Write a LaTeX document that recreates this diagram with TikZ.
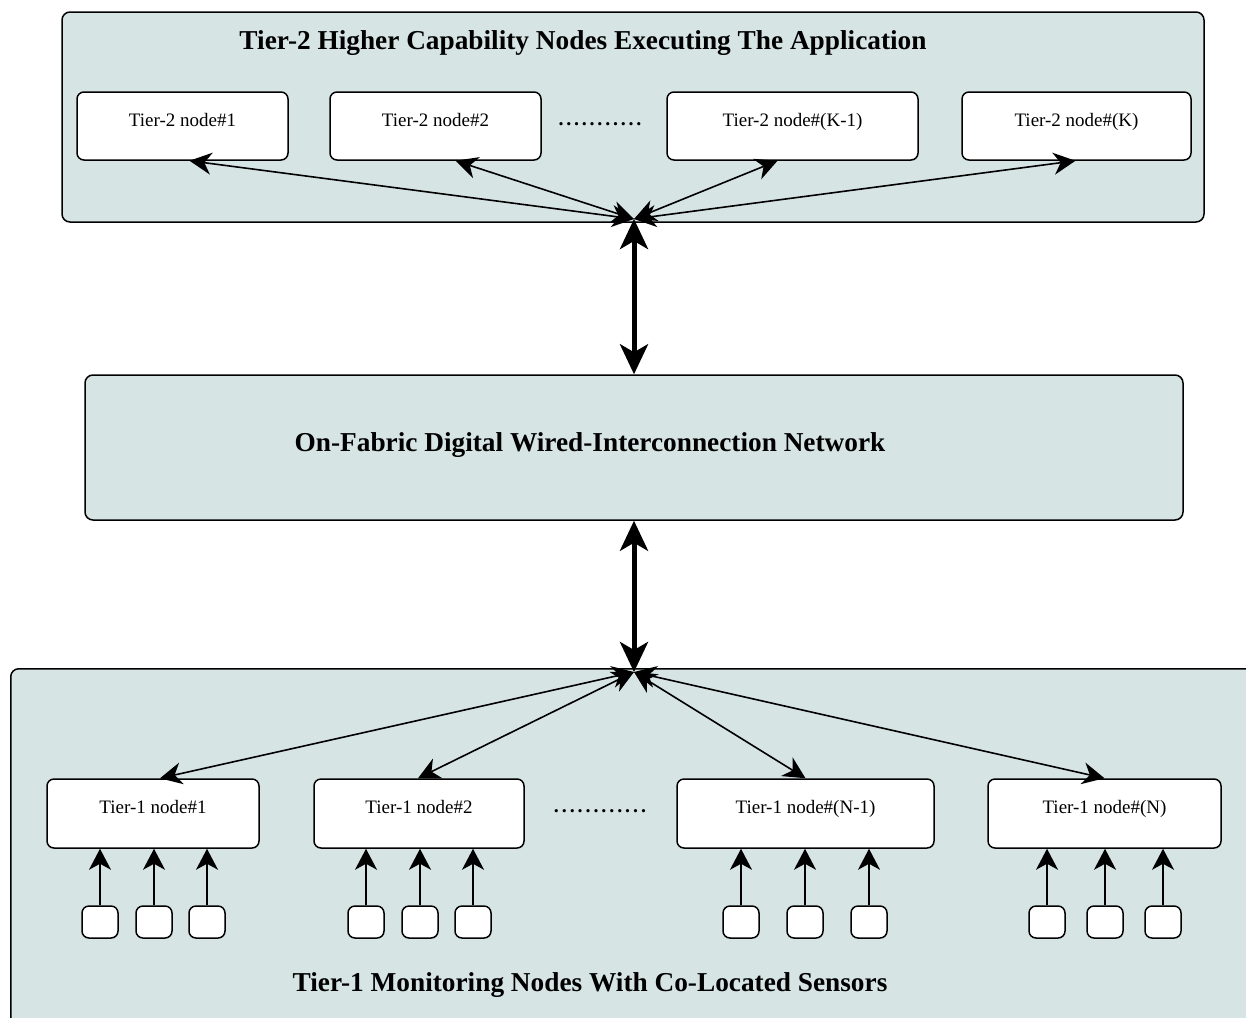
\documentclass[tikz,border=0pt]{standalone}
\usepackage{fontspec}
\setmainfont{Liberation Serif}
\usetikzlibrary{arrows.meta}
\definecolor{panelfill}{RGB}{215,228,228}

\begin{document}
\begin{tikzpicture}[x=1pt, y=-1pt,
    panel/.style={draw, line width=1.5pt, fill=panelfill, rounded corners=8pt},
    tbox/.style={draw, line width=1.5pt, fill=white, rounded corners=7pt,
                 font=\fontsize{19}{23}\selectfont, text height=13pt, text depth=13pt},
    sensor/.style={draw, line width=1.5pt, fill=white, rounded corners=7pt,
                   minimum width=36pt, minimum height=32pt},
    title/.style={font=\fontsize{27.3}{32}\selectfont\bfseries},
    dots/.style={font=\fontsize{20}{23}\selectfont\bfseries},
    link/.style={{Stealth[length=22pt,width=22pt,inset=7pt]}-{Stealth[length=22pt,width=22pt,inset=7pt]}, line width=1.6pt},
    trunk/.style={{Stealth[length=30pt,width=28pt,inset=8pt]}-{Stealth[length=30pt,width=28pt,inset=8pt]}, line width=5pt},
    feed/.style={-{Stealth[length=21pt,width=22pt,inset=6pt]}, line width=1.6pt},
]
\useasboundingbox (0,0) rectangle (1246,1017);

% Tier-2 panel
\node[panel, minimum width=1142, minimum height=210] (tier2) at (633,117) {};
\node[title] (tier2title) at (583,43) {Tier-2 Higher Capability Nodes Executing The Application};
\node[tbox, minimum width=211, minimum height=68] (t2n1) at (182.5,126) {Tier-2 node\#1};
\node[tbox, minimum width=211, minimum height=68] (t2n2) at (435.5,126) {Tier-2 node\#2};
\node[tbox, minimum width=251, minimum height=68] (t2nm) at (792.5,126) {Tier-2 node\#(K-1)};
\node[tbox, minimum width=229, minimum height=68] (t2nk) at (1076.5,126) {Tier-2 node\#(K)};
\node[dots] (t2dots) at (600,124)
      {\hbox to 86pt{\xleaders\hbox to 7.2pt{\hss.\hss}\hfill}};
\coordinate (hubtop) at (634,219);

% Interconnection network
\node[panel, minimum width=1098, minimum height=145] (fabric) at (634,447.5) {};
\node[title] (fabrictitle) at (590,445) {On-Fabric Digital Wired-Interconnection Network};

% Tier-1 panel
\node[panel, anchor=north west, minimum width=1280, minimum height=380] (tier1) at (10,668) {};
\node[title] (tier1title) at (590,985) {Tier-1 Monitoring Nodes With Co-Located Sensors};
\node[tbox, minimum width=212, minimum height=69] (t1n1) at (153,813.5) {Tier-1 node\#1};
\node[tbox, minimum width=210, minimum height=69] (t1n2) at (419,813.5) {Tier-1 node\#2};
\node[tbox, minimum width=257, minimum height=69] (t1nm) at (805.5,813.5) {Tier-1 node\#(N-1)};
\node[tbox, minimum width=233, minimum height=69] (t1nn) at (1104.5,813.5) {Tier-1 node\#(N)};
\node[dots] (t1dots) at (600,811)
      {\hbox to 95pt{\xleaders\hbox to 7.9pt{\hss.\hss}\hfill}};
\coordinate (hubbot) at (634,672);

% links to the hubs
\draw[link] (hubtop) -- ([xshift=7pt]t2n1.south);
\draw[link] (hubtop) -- ([xshift=20pt]t2n2.south);
\draw[link] (hubtop) -- ([xshift=-15pt]t2nm.south);
\draw[link] (hubtop) -- ([xshift=-1pt]t2nk.south);
\draw[link] (hubbot) -- ([xshift=7pt]t1n1.north);
\draw[link] (hubbot) -- ([xshift=-1pt]t1n2.north);
\draw[link] (hubbot) -- (t1nm.north);
\draw[link] (hubbot) -- (t1nn.north);

% trunks
\draw[trunk] (hubtop) -- (fabric.north);
\draw[trunk] (fabric.south) -- (hubbot);

% sensors
\foreach \n/\a/\b/\c in {t1n1/100/154/207, t1n2/366/420/473,
                         t1nm/741/805/869, t1nn/1047/1105/1163} {
  \foreach \x [count=\k] in {\a,\b,\c} {
    \node[sensor] (\n s\k) at (\x,922) {};
    \draw[feed] (\n s\k.north) -- (\n s\k.north |- \n.south);
  }
}
\end{tikzpicture}
\end{document}
